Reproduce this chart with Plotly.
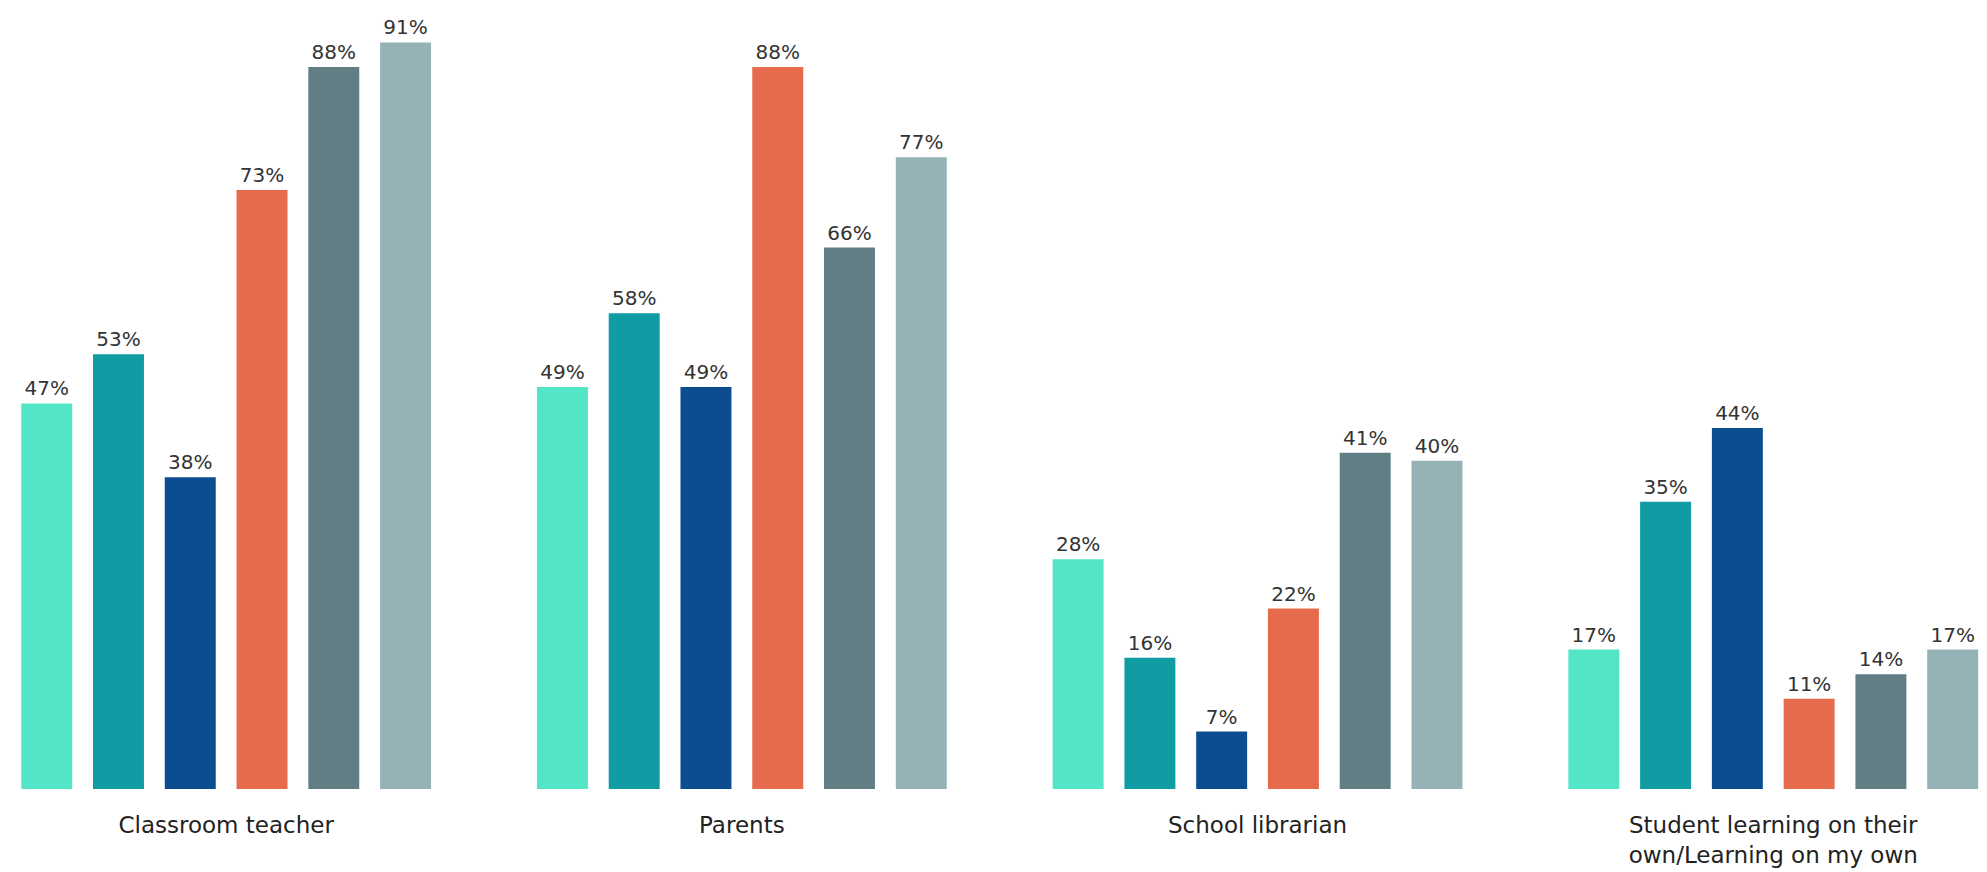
import plotly.graph_objects as go

categories = ["Classroom teacher", "Parents", "School librarian",
              "Student learning on their<br>own/Learning on my own"]
series_names = ["Group 1", "Group 2", "Group 3", "Group 4", "Group 5", "Group 6"]
series_values = [
    [47, 49, 28, 17],
    [53, 58, 16, 35],
    [38, 49, 7, 44],
    [73, 88, 22, 11],
    [88, 66, 41, 14],
    [91, 77, 40, 17],
]
colors = ["#52E5C6", "#109CA3", "#0B4D8F", "#E66A4C", "#607E83", "#95B2B7"]

FONT = "DejaVu Sans, sans-serif"

fig = go.Figure()
for name, vals, col in zip(series_names, series_values, colors):
    fig.add_trace(go.Bar(
        x=categories, y=vals, name=name,
        marker=dict(color=col, line=dict(width=0)),
        text=[f"{v}%" for v in vals],
        textposition="outside",
        constraintext="none",
        cliponaxis=False,
        textfont=dict(family=FONT, size=20, color="#333333"),
        hoverinfo="skip",
    ))

fig.update_layout(
    width=1987, height=872,
    barmode="group",
    bargap=0.165,
    bargroupgap=0.29,
    showlegend=False,
    plot_bgcolor="white",
    paper_bgcolor="white",
    margin=dict(l=0, r=0, t=0, b=91, autoexpand=False),
    font=dict(family=FONT, color="#222222"),
)
fig.update_xaxes(
    type="category",
    range=[-0.423, 3.430],
    showgrid=False, zeroline=False, showline=False,
    ticks="", ticklabelstandoff=20,
    tickfont=dict(family=FONT, size=23, color="#222222"),
)
fig.update_yaxes(
    range=[0, 95.2],
    showgrid=False, zeroline=False, showline=False,
    showticklabels=False, ticks="",
)

fig.write_html("out.html")
